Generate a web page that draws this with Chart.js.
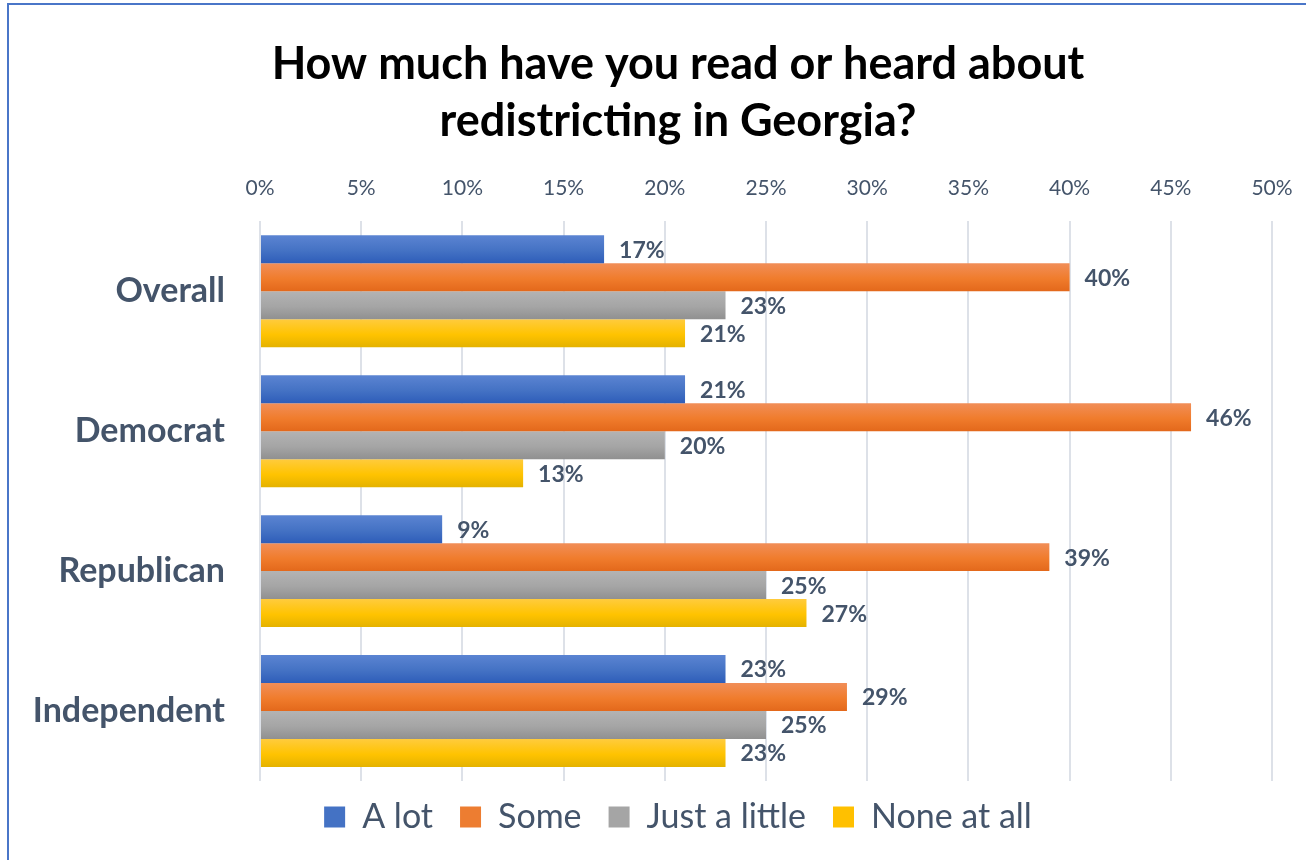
<!DOCTYPE html>
<html>
<head>
<meta charset="utf-8">
<script src="https://cdn.jsdelivr.net/npm/chart.js@4.4.0/dist/chart.umd.min.js"></script>
<style>
  html, body { margin: 0; padding: 0; background: #fff; overflow: hidden; }
  #frame { position: absolute; left: 7px; top: 3px; width: 2000px; height: 2000px;
           border-left: 2px solid #4A76C8; border-top: 2px solid #4A76C8; z-index: 0; }
  #wrap { position: absolute; left: 0; top: 0; width: 1306px; height: 860px; z-index: 1; }
</style>
</head>
<body>
<div id="frame"></div>
<div id="wrap"><canvas id="c" width="1306" height="860"></canvas></div>
<script>
const titleLines = ['How much have you read or heard about', 'redistricting in Georgia?'];
const categories = ['Overall', 'Democrat', 'Republican', 'Independent'];
const seriesNames = ['A lot', 'Some', 'Just a little', 'None at all'];
const aLot = [17, 21, 9, 23];
const some = [40, 46, 39, 29];
const justALittle = [23, 20, 25, 25];
const noneAtAll = [21, 13, 27, 23];
const xTickValues = [0, 5, 10, 15, 20, 25, 30, 35, 40, 45, 50];

const solid = ['#4472C4', '#ED7D31', '#A5A5A5', '#FFC000'];
const grads = [
  ['#5B84D2', '#4472C4', '#2E5DB9'],
  ['#F18E58', '#F07C2C', '#E3681B'],
  ['#B3B3B3', '#A5A5A5', '#909090'],
  ['#FFCB3D', '#FFC300', '#E4B200']
];
const TEXT = '#44546A';
const FONT = 'Lato, "Open Sans", sans-serif';

const seriesData = [aLot, some, justALittle, noneAtAll];

const gradientPlugin = {
  id: 'barGradient',
  beforeDatasetsDraw(chart) {
    const ctx = chart.ctx;
    chart.data.datasets.forEach((ds, di) => {
      const meta = chart.getDatasetMeta(di);
      meta.data.forEach(el => {
        const h = el.height;
        const g = ctx.createLinearGradient(0, el.y - h / 2, 0, el.y + h / 2);
        g.addColorStop(0, grads[di][0]);
        g.addColorStop(0.55, grads[di][1]);
        g.addColorStop(1, grads[di][2]);
        el.options.backgroundColor = g;
      });
    });
  }
};

const labelPlugin = {
  id: 'valueLabels',
  afterDatasetsDraw(chart) {
    const ctx = chart.ctx;
    ctx.save();
    ctx.font = 'bold 23px ' + FONT;
    ctx.fillStyle = TEXT;
    ctx.textAlign = 'left';
    ctx.textBaseline = 'middle';
    chart.data.datasets.forEach((ds, di) => {
      const meta = chart.getDatasetMeta(di);
      meta.data.forEach((el, i) => {
        ctx.fillText(ds.data[i] + '%', el.x + 15, el.y + 1);
      });
    });
    ctx.restore();
  }
};

// let y-axis labels extend left of the padded area (no clipping), nudge legend up
const layoutTweak = {
  id: 'layoutTweak',
  afterLayout(chart) {
    chart.scales.y.left = 0;
    chart.legend.top -= 8;
    chart.legend.bottom -= 8;
  }
};

const PAD_L = 84, PAD_R = 34;

new Chart(document.getElementById('c'), {
  type: 'bar',
  data: {
    labels: categories,
    datasets: seriesData.map((d, i) => ({
      label: seriesNames[i],
      data: d,
      backgroundColor: () => solid[i],
      borderWidth: 0,
      categoryPercentage: 0.8,
      barPercentage: 1.0
    }))
  },
  options: {
    indexAxis: 'y',
    responsive: false,
    animation: false,
    layout: { padding: { left: PAD_L, right: PAD_R, top: 0, bottom: 8 } },
    scales: {
      x: {
        position: 'top',
        min: 0, max: 50,
        afterBuildTicks(scale) { scale.ticks = xTickValues.map(v => ({ value: v })); },
        afterFit(scale) { scale.height = 71; },
        ticks: {
          padding: 3,
          color: TEXT,
          font: { family: FONT, size: 21 },
          callback: v => v + '%'
        },
        grid: { color: '#DDE1E8', lineWidth: 2, drawTicks: true, tickLength: 17, tickColor: 'rgba(0,0,0,0)' },
        border: { display: false }
      },
      y: {
        afterFit(scale) { scale.width = 260 - PAD_L; },
        ticks: {
          padding: 35,
          color: TEXT,
          font: { family: FONT, size: 34, weight: 'bold' }
        },
        grid: { display: false, drawTicks: false },
        border: { display: false }
      }
    },
    plugins: {
      title: {
        display: true,
        text: titleLines,
        color: '#000',
        font: { family: FONT, size: 45, weight: 'bold', lineHeight: 1.27 },
        padding: { top: 36, bottom: 0 }
      },
      legend: {
        position: 'bottom',
        labels: {
          color: TEXT,
          font: { family: FONT, size: 34 },
          boxWidth: 21,
          boxHeight: 21,
          padding: 27
        }
      },
      tooltip: { enabled: false }
    }
  },
  plugins: [gradientPlugin, labelPlugin, layoutTweak]
});
</script>
</body>
</html>
